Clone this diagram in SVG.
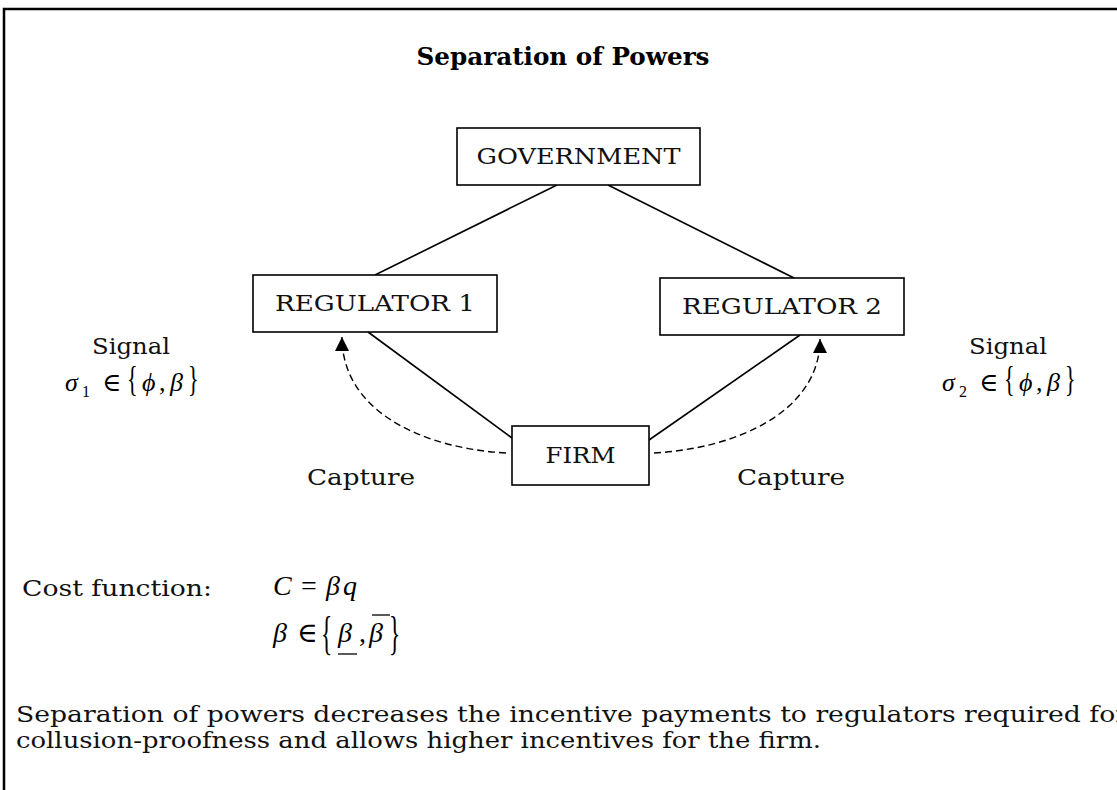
<svg xmlns="http://www.w3.org/2000/svg" width="1117" height="790" viewBox="0 0 1117 790">
  <style>
    .frame { fill: none; stroke: #000; stroke-width: 2.5; }
    .box { fill: #fff; stroke: #000; stroke-width: 1.6; }
    .link { stroke: #000; stroke-width: 1.6; fill: none; }
    .capture { stroke: #000; stroke-width: 1.4; fill: none; stroke-dasharray: 7 4; }
    .bar { stroke: #000; stroke-width: 1.3; }
    .lbl { font-family: "DejaVu Serif", "Liberation Serif", serif; font-size: 23px; fill: #111; }
    .title { font-family: "DejaVu Serif", "Liberation Serif", serif; font-size: 24px; font-weight: bold; fill: #000; }
    .math { font-family: "Liberation Serif", "DejaVu Serif", serif; font-size: 26px; fill: #000; }
    .big { font-size: 28px; }
    .it { font-style: italic; }
    .sub { font-size: 16px; }
  </style>
  <defs>
    <marker id="arrow" viewBox="0 0 14 14" refX="14" refY="7" markerWidth="14" markerHeight="14" markerUnits="userSpaceOnUse" orient="auto">
      <path d="M0,0 L14,7 L0,14 z" fill="#000"/>
    </marker>
  </defs>

  <rect x="0" y="0" width="1117" height="790" fill="#fff"/>
  <rect class="frame" x="4" y="9" width="1140" height="800"/>

  <text class="title" x="563" y="65" text-anchor="middle" textLength="293" lengthAdjust="spacingAndGlyphs">Separation of Powers</text>

  <!-- connectors -->
  <g id="connectors">
    <line class="link" x1="557" y1="185" x2="375" y2="275"/>
    <line class="link" x1="608" y1="185" x2="794" y2="278"/>
    <line class="link" x1="368" y1="332" x2="512" y2="438"/>
    <line class="link" x1="649" y1="440" x2="800" y2="335"/>
    <path class="capture" d="M506,453 C420,448 342,410 342,337" marker-end="url(#arrow)"/>
    <path class="capture" d="M654,453 C740,448 820,410 820,339" marker-end="url(#arrow)"/>
  </g>

  <g id="government">
    <rect class="box" x="457" y="128" width="243" height="57"/>
    <text class="lbl" x="578.5" y="164" text-anchor="middle" textLength="204" lengthAdjust="spacingAndGlyphs">GOVERNMENT</text>
  </g>
  <g id="regulator1">
    <rect class="box" x="253" y="275" width="244" height="57"/>
    <text class="lbl" x="375" y="311" text-anchor="middle" textLength="200" lengthAdjust="spacingAndGlyphs">REGULATOR 1</text>
  </g>
  <g id="regulator2">
    <rect class="box" x="660" y="278" width="244" height="57"/>
    <text class="lbl" x="782" y="314" text-anchor="middle" textLength="200" lengthAdjust="spacingAndGlyphs">REGULATOR 2</text>
  </g>
  <g id="firm">
    <rect class="box" x="512" y="426" width="137" height="59"/>
    <text class="lbl" x="580.5" y="463" text-anchor="middle" textLength="70" lengthAdjust="spacingAndGlyphs">FIRM</text>
  </g>

  <!-- capture labels -->
  <text class="lbl" x="307" y="485" textLength="108" lengthAdjust="spacingAndGlyphs">Capture</text>
  <text class="lbl" x="737" y="485" textLength="108" lengthAdjust="spacingAndGlyphs">Capture</text>

  <!-- signal of regulator 1 -->
  <g id="signal1">
    <text class="lbl" x="131" y="354" text-anchor="middle" textLength="78" lengthAdjust="spacingAndGlyphs">Signal</text>
    <text class="math"><tspan class="it" x="65" y="391">σ</tspan><tspan class="sub" x="82" y="397">1</tspan><tspan x="102" y="391">∈</tspan><tspan class="it" x="142" y="391">ϕ</tspan><tspan x="159" y="391">,</tspan><tspan class="it" x="170" y="391">β</tspan></text>
    <text class="math" transform="translate(127,391.4) scale(0.85,1.38)">{</text>
    <text class="math" transform="translate(188,391.4) scale(0.85,1.38)">}</text>
  </g>
  <!-- signal of regulator 2 -->
  <g id="signal2">
    <text class="lbl" x="1008" y="354" text-anchor="middle" textLength="78" lengthAdjust="spacingAndGlyphs">Signal</text>
    <text class="math"><tspan class="it" x="942" y="391">σ</tspan><tspan class="sub" x="959" y="397">2</tspan><tspan x="979" y="391">∈</tspan><tspan class="it" x="1019" y="391">ϕ</tspan><tspan x="1036" y="391">,</tspan><tspan class="it" x="1047" y="391">β</tspan></text>
    <text class="math" transform="translate(1004,391.4) scale(0.85,1.38)">{</text>
    <text class="math" transform="translate(1065,391.4) scale(0.85,1.38)">}</text>
  </g>

  <!-- cost function -->
  <g id="cost">
    <text class="lbl" x="22" y="596" textLength="190" lengthAdjust="spacingAndGlyphs">Cost function:</text>
    <text class="math big"><tspan class="it" x="273" y="595">C</tspan><tspan x="301" y="595">=</tspan><tspan class="it" x="326" y="595">β</tspan><tspan class="it" x="343" y="595">q</tspan></text>
    <text class="math big"><tspan class="it" x="273" y="642">β</tspan><tspan x="297" y="642">∈</tspan><tspan class="it" x="338" y="642">β</tspan><tspan x="359" y="642">,</tspan><tspan class="it" x="369" y="642">β</tspan></text>
    <text class="math" transform="translate(321,648.5) scale(0.9,1.78)">{</text>
    <text class="math" transform="translate(389,648.5) scale(0.9,1.78)">}</text>
    <line class="bar" x1="338" y1="654" x2="357" y2="654"/>
    <line class="bar" x1="372" y1="615" x2="390" y2="615"/>
  </g>

  <!-- conclusion -->
  <text class="lbl" x="16" y="722" textLength="1112" lengthAdjust="spacingAndGlyphs">Separation of powers decreases the incentive payments to regulators required for</text>
  <text class="lbl" x="16" y="748" textLength="805" lengthAdjust="spacingAndGlyphs">collusion-proofness and allows higher incentives for the firm.</text>
</svg>
